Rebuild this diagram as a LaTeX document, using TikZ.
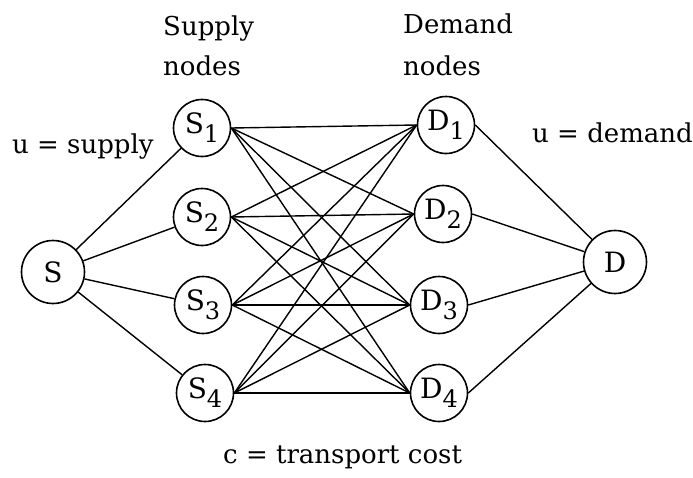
\documentclass[tikz,border=0pt]{standalone}
\usepackage{fontspec}
\setmainfont{DejaVu Serif}
\usetikzlibrary{positioning}
\newcommand{\idxlbl}[2]{#1\raisebox{-9pt}{\fontsize{24}{24}\selectfont #2}}
\tikzset{
  % nodo di offerta / domanda
  vnode/.style={circle, draw=black, line width=1.6pt, minimum size=57pt,
    inner sep=0pt, font=\fontsize{28}{28}\selectfont},
  % sorgente e pozzo
  endnode/.style={vnode, minimum size=63pt},
  % collegamenti
  edgeline/.style={line width=1.4pt, black},
  % etichette
  lbl/.style={font=\fontsize{26}{26}\selectfont, inner sep=0pt, anchor=base west},
}
\begin{document}
\begin{tikzpicture}[x=1pt, y=-1pt]
  \useasboundingbox (0,0) rectangle (693,477);
  % nodi
  \node[endnode] (s) at (53,272) {S};
  \node[vnode] (s1) at (202,128) {\idxlbl{S}{1}};
  \node[vnode] (s2) at (202,217) {\idxlbl{S}{2}};
  \node[vnode] (s3) at (203,305) {\idxlbl{S}{3}};
  \node[vnode] (s4) at (205,393) {\idxlbl{S}{4}};
  \node[vnode] (d1) at (446,125) {\idxlbl{D}{1}};
  \node[vnode] (d2) at (443,214) {\idxlbl{D}{2}};
  \node[vnode] (d3) at (439,305) {\idxlbl{D}{3}};
  \node[vnode] (d4) at (439,393) {\idxlbl{D}{4}};
  \node[endnode] (d) at (615,262) {D};
  % testi
  \node[lbl] (suptop) at (163,35) {Supply};
  \node[lbl] (supbot) at (163,75) {nodes};
  \node[lbl] (demtop) at (403,33) {Demand};
  \node[lbl] (dembot) at (403,75) {nodes};
  \node[lbl] (usup) at (12,153) {u = supply};
  \node[lbl] (udem) at (532,142) {u = demand};
  \node[lbl] (cost) at (223,463) {c = transport cost};
  % archi
  \foreach \i in {1,...,4} {
    \draw[edgeline] (s) -- (s\i);
    \draw[edgeline] (d\i.east) -- (d);
    \foreach \j in {1,...,4} \draw[edgeline] (s\i.east) -- (d\j.west);
  }
\end{tikzpicture}
\end{document}
